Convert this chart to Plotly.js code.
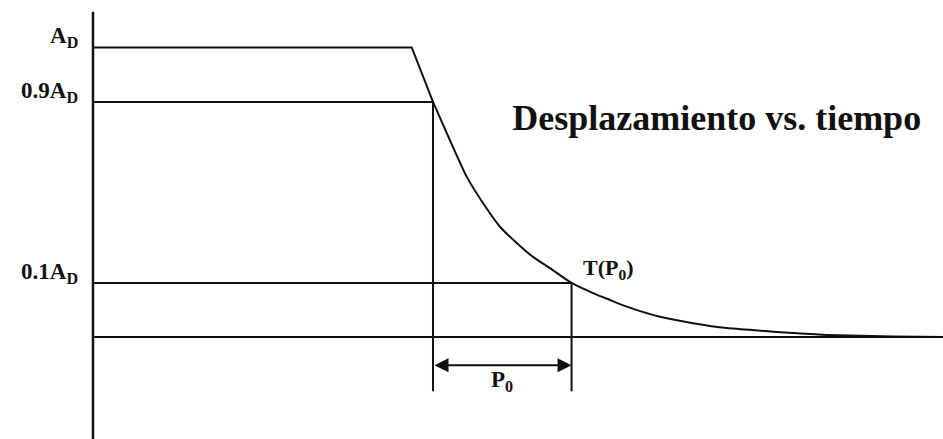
<!DOCTYPE html>
<html>
<head>
<meta charset="utf-8">
<script src="https://cdn.plot.ly/plotly-3.0.1.min.js"></script>
<style>html,body{margin:0;padding:0;background:#fff;}#chart{width:943px;height:439px;}</style>
</head>
<body>
<div id="chart"></div>
<script>
// Schematic values (time in arbitrary units, displacement relative to A_D as drawn)
const levelLabels = ['A<sub>D</sub>', '0.9A<sub>D</sub>', '0.1A<sub>D</sub>'];
const levelValues = [1.0, 0.812, 0.187];
const tPlateauEnd = 3.75;
const t09 = 4.0;       // time at 0.9 A_D
const t01 = 5.63;      // time at 0.1 A_D = T(P0)
const tEnd = 10;
const axisTop = 1.123;
const axisBottom = -0.36;
const dropBottom = -0.187;
const arrowLevel = -0.097;

const curveT = [4.00, 4.235, 4.396, 4.588, 4.788, 4.985, 5.176, 5.376, 5.63, 5.882, 6.082, 6.279, 6.671, 7.059, 7.455, 7.847, 8.235, 8.632, 9.412, 10.0];
const curveY = [0.812, 0.656, 0.554, 0.463, 0.381, 0.325, 0.277, 0.238, 0.187, 0.152, 0.128, 0.105, 0.070, 0.048, 0.031, 0.022, 0.014, 0.007, 0.002, 0.0];

const titleText = 'Desplazamiento vs. tiempo';
const p0Label = 'P<sub>0</sub>';
const tp0Label = 'T(P<sub>0</sub>)';

const ink = '#111';
const lw = 2;
const serif = '"Liberation Serif", "Times New Roman", Times, serif';
function seg(x, y, w) {
  return {x: x, y: y, mode: 'lines', type: 'scatter', hoverinfo: 'skip', showlegend: false,
          line: {color: ink, width: w || lw}};
}

const traces = [
  seg([0, 0], [axisBottom, axisTop], 2.5),           // vertical axis
  seg([0, tEnd], [0, 0]),                             // baseline
  seg([0, tPlateauEnd, t09], [levelValues[0], levelValues[0], levelValues[1]]), // plateau + drop
  seg([0, t09, t09], [levelValues[1], levelValues[1], dropBottom]),           // 0.9 level
  seg([0, t01, t01], [levelValues[2], levelValues[2], dropBottom]),           // 0.1 level
  {x: curveT, y: curveY, mode: 'lines', type: 'scatter', hoverinfo: 'skip', showlegend: false,
   line: {color: ink, width: lw, shape: 'spline', smoothing: 0.6}}
];

const labelFont = {family: serif, size: 23, color: ink, weight: 'bold'};

const annotations = levelLabels.map((txt, i) => ({
  x: 0, y: levelValues[i], xref: 'x', yref: 'y', text: '<b>' + txt + '</b>',
  showarrow: false, xanchor: 'right', yanchor: 'middle', xshift: -13, yshift: 10,
  font: labelFont
}));

annotations.push({
  x: t01, y: arrowLevel, ax: t09, ay: arrowLevel, xref: 'x', yref: 'y', axref: 'x', ayref: 'y',
  text: '', showarrow: true, arrowhead: 2, startarrowhead: 2, arrowside: 'end+start',
  arrowsize: 1.4, startarrowsize: 1.4, arrowwidth: 2, arrowcolor: ink, standoff: 0, startstandoff: 0
});
annotations.push({
  x: (t09 + t01) / 2, y: arrowLevel, xref: 'x', yref: 'y', text: '<b>' + p0Label + '</b>',
  showarrow: false, xanchor: 'center', yanchor: 'middle', yshift: -16, font: labelFont
});
annotations.push({
  x: t01, y: levelValues[2], xref: 'x', yref: 'y', text: '<b>' + tp0Label + '</b>',
  showarrow: false, xanchor: 'left', yanchor: 'middle', xshift: 9, yshift: 14,
  font: {family: serif, size: 22, color: ink, weight: 'bold'}
});

const layout = {
  width: 943, height: 439,
  margin: {l: 0, r: 0, t: 0, b: 0, pad: 0},
  paper_bgcolor: '#fff', plot_bgcolor: '#fff',
  showlegend: false,
  title: {
    text: '<b>' + titleText + '</b>',
    x: 0.760, y: 0.733, xref: 'paper', yref: 'paper', xanchor: 'center', yanchor: 'middle',
    font: {family: serif, size: 36, color: ink}
  },
  xaxis: {visible: false, range: [-1.094, 10], fixedrange: true},
  yaxis: {visible: false, range: [-0.352, 1.164], fixedrange: true},
  annotations: annotations
};

Plotly.newPlot('chart', traces, layout, {staticPlot: true, displayModeBar: false});
</script>
</body>
</html>
